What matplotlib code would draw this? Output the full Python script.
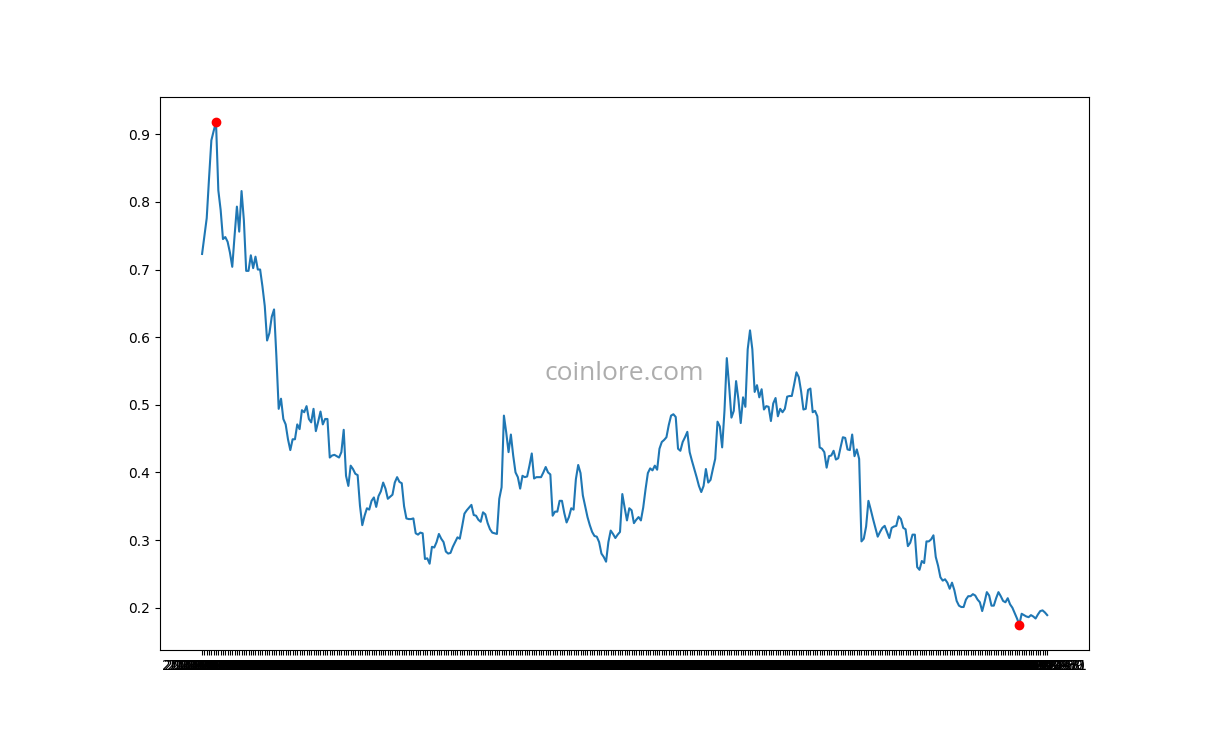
import matplotlib
matplotlib.use("Agg")
import matplotlib.pyplot as plt
import pandas as pd

prices = [
    0.723, 0.750, 0.776, 0.835, 0.891, 0.905, 0.918, 0.817, 0.788, 0.745,
    0.748, 0.741, 0.725, 0.704, 0.750, 0.793, 0.756, 0.816, 0.773, 0.698,
    0.698, 0.721, 0.702, 0.719, 0.700, 0.700, 0.675, 0.646, 0.595, 0.606,
    0.630, 0.641, 0.572, 0.494, 0.509, 0.479, 0.471, 0.449, 0.433, 0.449,
    0.449, 0.471, 0.464, 0.492, 0.489, 0.498, 0.479, 0.474, 0.494, 0.461,
    0.475, 0.490, 0.471, 0.479, 0.479, 0.422, 0.425, 0.426, 0.424, 0.422,
    0.430, 0.463, 0.395, 0.380, 0.410, 0.405, 0.398, 0.396, 0.351, 0.322,
    0.336, 0.347, 0.345, 0.358, 0.363, 0.349, 0.365, 0.372, 0.385, 0.376,
    0.361, 0.364, 0.367, 0.385, 0.393, 0.386, 0.384, 0.350, 0.332, 0.331,
    0.331, 0.332, 0.310, 0.308, 0.311, 0.310, 0.272, 0.273, 0.265, 0.290,
    0.289, 0.297, 0.309, 0.302, 0.297, 0.283, 0.280, 0.281, 0.290, 0.297,
    0.304, 0.302, 0.320, 0.339, 0.344, 0.348, 0.352, 0.337, 0.336, 0.330,
    0.327, 0.341, 0.338, 0.325, 0.316, 0.311, 0.310, 0.309, 0.361, 0.378,
    0.484, 0.459, 0.430, 0.456, 0.425, 0.400, 0.393, 0.376, 0.395, 0.393,
    0.394, 0.410, 0.428, 0.391, 0.393, 0.393, 0.393, 0.400, 0.408, 0.400,
    0.397, 0.336, 0.342, 0.342, 0.358, 0.358, 0.340, 0.326, 0.334, 0.347,
    0.345, 0.390, 0.411, 0.399, 0.366, 0.350, 0.334, 0.322, 0.312, 0.306,
    0.305, 0.297, 0.280, 0.275, 0.268, 0.297, 0.314, 0.309, 0.303, 0.308,
    0.312, 0.368, 0.348, 0.329, 0.347, 0.344, 0.325, 0.330, 0.334, 0.329,
    0.348, 0.375, 0.399, 0.406, 0.403, 0.410, 0.404, 0.435, 0.445, 0.448,
    0.452, 0.470, 0.484, 0.486, 0.482, 0.435, 0.432, 0.445, 0.452, 0.460,
    0.430, 0.417, 0.405, 0.393, 0.380, 0.371, 0.380, 0.405, 0.385, 0.389,
    0.405, 0.420, 0.475, 0.468, 0.437, 0.491, 0.569, 0.528, 0.481, 0.491,
    0.535, 0.508, 0.473, 0.511, 0.497, 0.582, 0.610, 0.582, 0.519, 0.529,
    0.511, 0.523, 0.493, 0.498, 0.497, 0.476, 0.502, 0.510, 0.483, 0.494,
    0.489, 0.494, 0.512, 0.513, 0.513, 0.530, 0.548, 0.541, 0.520, 0.493,
    0.494, 0.522, 0.524, 0.489, 0.491, 0.483, 0.437, 0.435, 0.430, 0.407,
    0.424, 0.425, 0.432, 0.419, 0.421, 0.437, 0.452, 0.451, 0.434, 0.433,
    0.456, 0.424, 0.434, 0.420, 0.298, 0.302, 0.320, 0.358, 0.345, 0.331,
    0.318, 0.305, 0.312, 0.318, 0.321, 0.312, 0.303, 0.318, 0.320, 0.321,
    0.335, 0.331, 0.318, 0.316, 0.291, 0.296, 0.308, 0.308, 0.260, 0.256,
    0.269, 0.266, 0.298, 0.298, 0.301, 0.307, 0.275, 0.262, 0.245, 0.240,
    0.242, 0.237, 0.228, 0.237, 0.226, 0.210, 0.203, 0.201, 0.201, 0.212,
    0.217, 0.217, 0.220, 0.218, 0.212, 0.208, 0.195, 0.208, 0.223, 0.218,
    0.203, 0.203, 0.214, 0.223, 0.217, 0.210, 0.208, 0.214, 0.205, 0.200,
    0.192, 0.184, 0.175, 0.191, 0.189, 0.187, 0.186, 0.189, 0.187, 0.184,
    0.190, 0.195, 0.196, 0.193, 0.189,
]
dates = pd.date_range("2022-01-01", periods=len(prices)).strftime("%Y-%m-%d").tolist()

hi = prices.index(max(prices))
lo = prices.index(min(prices))

fig = plt.figure(figsize=(12.2, 7.4), dpi=100)
ax = fig.add_axes([0.131, 0.122, 0.762, 0.747])
ax.plot(dates, prices)
ax.plot(dates[hi], prices[hi], "ro")
ax.plot(dates[lo], prices[lo], "ro")
# watermark in the middle of the axes
ax.text(0.5, 0.5, "coinlore.com", transform=ax.transAxes, ha="center", va="center",
        fontsize=19, color="#999999", alpha=0.8, family="Open Sans")

fig.savefig("out.png")
